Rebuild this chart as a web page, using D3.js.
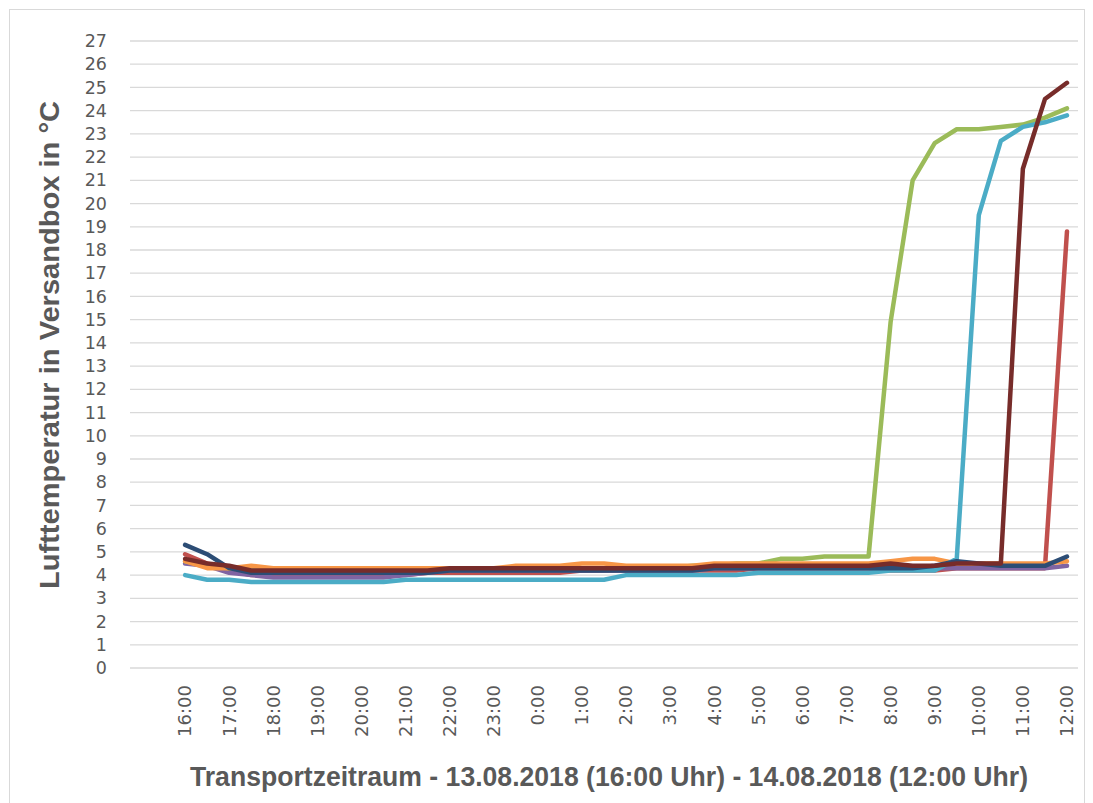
<!DOCTYPE html>
<html>
<head>
<meta charset="utf-8">
<script src="https://cdn.jsdelivr.net/npm/d3@7"></script>
<style>
  body { margin: 0; background: #fff; }
  svg { display: block; }
</style>
</head>
<body>
<svg></svg>
<script>
var width = 1093;
var height = 803;
var svg = d3.select("svg").attr("width", width).attr("height", height);

// half-hour readings 13.08. 16:00 -> 14.08. 12:00
var times = ["16:00","16:30","17:00","17:30","18:00","18:30","19:00","19:30","20:00","20:30",
  "21:00","21:30","22:00","22:30","23:00","23:30","0:00","0:30","1:00","1:30",
  "2:00","2:30","3:00","3:30","4:00","4:30","5:00","5:30","6:00","6:30",
  "7:00","7:30","8:00","8:30","9:00","9:30","10:00","10:30","11:00","11:30","12:00"];

// two empty slots in front of the first reading (as in the original axis)
var padSlots = ["pad1", "pad2"];

var yTicks = d3.range(0, 28);

var red    = [4.9,4.5,4.2,4.0,4.0,4.0,4.0,4.0,4.0,4.0,4.0,4.1,4.1,4.1,4.1,4.1,4.1,4.1,4.2,4.2,4.2,4.2,4.2,4.2,4.2,4.2,4.3,4.3,4.3,4.3,4.3,4.3,4.2,4.2,4.2,4.3,4.3,4.3,4.3,4.3,18.8];
var purple = [4.5,4.4,4.1,4.0,3.9,3.9,3.9,3.9,3.9,3.9,4.0,4.1,4.2,4.2,4.2,4.2,4.2,4.2,4.2,4.2,4.2,4.2,4.2,4.2,4.3,4.3,4.3,4.3,4.3,4.3,4.3,4.3,4.3,4.3,4.3,4.3,4.3,4.3,4.3,4.3,4.4];
var green  = [4.6,4.4,4.3,4.2,4.2,4.2,4.2,4.2,4.2,4.2,4.2,4.2,4.3,4.3,4.3,4.3,4.3,4.3,4.3,4.3,4.3,4.3,4.3,4.4,4.4,4.5,4.5,4.7,4.7,4.8,4.8,4.8,14.9,21.0,22.6,23.2,23.2,23.3,23.4,23.7,24.1];
var orange = [4.6,4.3,4.3,4.4,4.3,4.3,4.3,4.3,4.3,4.3,4.3,4.3,4.3,4.3,4.3,4.4,4.4,4.4,4.5,4.5,4.4,4.4,4.4,4.4,4.5,4.5,4.5,4.5,4.5,4.5,4.5,4.5,4.6,4.7,4.7,4.5,4.5,4.5,4.5,4.5,4.6];
var cyan   = [4.0,3.8,3.8,3.7,3.7,3.7,3.7,3.7,3.7,3.7,3.8,3.8,3.8,3.8,3.8,3.8,3.8,3.8,3.8,3.8,4.0,4.0,4.0,4.0,4.0,4.0,4.1,4.1,4.1,4.1,4.1,4.1,4.2,4.2,4.2,4.7,19.5,22.7,23.3,23.5,23.8];
var navy   = [5.3,4.9,4.3,4.1,4.1,4.1,4.1,4.1,4.1,4.1,4.1,4.1,4.2,4.2,4.2,4.2,4.2,4.2,4.2,4.2,4.2,4.2,4.2,4.2,4.3,4.3,4.3,4.3,4.3,4.3,4.3,4.3,4.3,4.3,4.4,4.6,4.5,4.4,4.4,4.4,4.8];
var maroon = [4.7,4.5,4.4,4.2,4.2,4.2,4.2,4.2,4.2,4.2,4.2,4.2,4.3,4.3,4.3,4.3,4.3,4.3,4.3,4.3,4.3,4.3,4.3,4.3,4.4,4.4,4.4,4.4,4.4,4.4,4.4,4.4,4.5,4.4,4.4,4.5,4.5,4.5,21.5,24.5,25.2];

var series = [
  {values: red,    color: "#c0504d"},
  {values: purple, color: "#8064a2"},
  {values: green,  color: "#9bbb59"},
  {values: orange, color: "#f79646"},
  {values: cyan,   color: "#4bacc6"},
  {values: navy,   color: "#2c4d75"},
  {values: maroon, color: "#772c2a"}
];

var margin = {left: 130, right: 15, top: 41, bottom: 135};
var plotW = width - margin.left - margin.right;
var plotH = height - margin.top - margin.bottom;

// chart frame
svg.append("rect")
  .attr("x", 9.5).attr("y", 9.5)
  .attr("width", 1075).attr("height", 800)
  .attr("fill", "none").attr("stroke", "#d9d9d9").attr("stroke-width", 1);

var xScale = d3.scaleBand().domain(padSlots.concat(times)).range([0, plotW]);
var yScale = d3.scaleLinear().domain([0, 27]).range([plotH, 0]);

var g = svg.append("g").attr("transform", "translate(" + margin.left + "," + margin.top + ")");

// gridlines
g.append("g").selectAll("line")
  .data(yTicks)
  .enter().append("line")
  .attr("x1", 0).attr("x2", plotW)
  .attr("y1", function(d) { return yScale(d); })
  .attr("y2", function(d) { return yScale(d); })
  .attr("stroke", "#d9d9d9").attr("stroke-width", 1.3);

var tickFont = "'DejaVu Sans', sans-serif";

// y axis labels
var yAxis = d3.axisLeft(yScale).tickValues(yTicks).tickSize(0).tickPadding(23);
var yG = g.append("g").call(yAxis);
yG.select(".domain").remove();
yG.selectAll("text")
  .attr("fill", "#595959")
  .style("font-family", tickFont)
  .style("font-size", "17.5px");

// x axis labels: full hours only
var hourLabels = times.filter(function(t) { return t.slice(-2) === "00"; });
var xG = g.append("g").attr("transform", "translate(0," + plotH + ")");
xG.selectAll("text")
  .data(hourLabels)
  .enter().append("text")
  .attr("transform", function(d) {
    return "translate(" + (xScale(d) + xScale.bandwidth() / 2) + ",17) rotate(-90)";
  })
  .attr("dy", "0.35em")
  .attr("text-anchor", "end")
  .attr("fill", "#595959")
  .style("font-family", tickFont)
  .style("font-size", "18px")
  .text(function(d) { return d; });

// lines
var line = d3.line()
  .x(function(d, i) { return xScale(times[i]) + xScale.bandwidth() / 2; })
  .y(function(d) { return yScale(d); });

g.append("g").selectAll("path")
  .data(series)
  .enter().append("path")
  .attr("d", function(s) { return line(s.values); })
  .attr("fill", "none")
  .attr("stroke", function(s) { return s.color; })
  .attr("stroke-width", 4.5)
  .attr("stroke-linejoin", "round")
  .attr("stroke-linecap", "round");

// axis titles
svg.append("text")
  .attr("transform", "translate(59,345) rotate(-90)")
  .attr("text-anchor", "middle")
  .attr("fill", "#595959")
  .style("font-family", "'Liberation Sans', Arial, sans-serif")
  .style("font-weight", "bold")
  .style("font-size", "28px")
  .attr("textLength", 488)
  .attr("lengthAdjust", "spacingAndGlyphs")
  .text("Lufttemperatur in Versandbox in °C");

svg.append("text")
  .attr("x", 609)
  .attr("y", 786)
  .attr("text-anchor", "middle")
  .attr("fill", "#595959")
  .style("font-family", "'Liberation Sans', Arial, sans-serif")
  .style("font-weight", "bold")
  .style("font-size", "27px")
  .attr("textLength", 838)
  .attr("lengthAdjust", "spacingAndGlyphs")
  .text("Transportzeitraum - 13.08.2018 (16:00 Uhr) - 14.08.2018 (12:00 Uhr)");
</script>
</body>
</html>
